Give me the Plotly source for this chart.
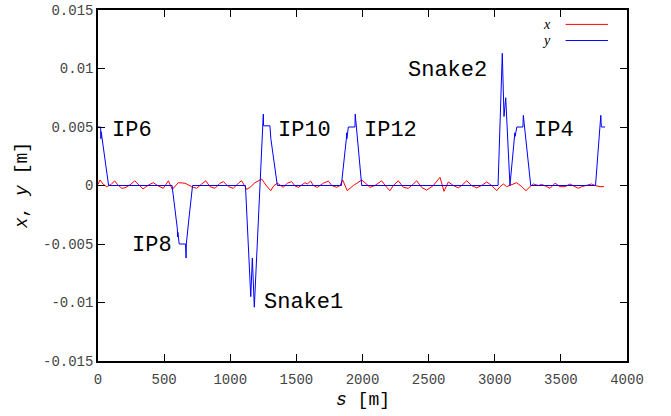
import plotly.graph_objects as go

# Closed-orbit distortion around the ring: horizontal (x) and vertical (y)
s_x = [0, 15, 40, 66, 100, 126, 150, 180, 204, 242, 278, 318, 340, 381, 418,
       456, 494, 532, 562, 607, 635, 658, 708, 746, 784, 815, 847, 885, 922,
       948, 986, 1023, 1061, 1086, 1124, 1149, 1187, 1238, 1275, 1306, 1331,
       1356, 1376, 1401, 1432, 1464, 1490, 1515, 1540, 1565, 1583, 1608, 1628,
       1658, 1679, 1704, 1742, 1767, 1805, 1830, 1850, 1885, 1931, 1968, 1994,
       2019, 2057, 2094, 2145, 2183, 2208, 2233, 2271, 2309, 2346, 2372, 2410,
       2447, 2485, 2536, 2586, 2616, 2649, 2687, 2724, 2750, 2788, 2825, 2863,
       2901, 2939, 2977, 3015, 3040, 3065, 3090, 3115, 3166, 3204, 3236, 3267,
       3292, 3330, 3355, 3393, 3418, 3456, 3493, 3531, 3569, 3607, 3632, 3657,
       3695, 3733, 3758, 3796, 3826]
x_orbit = [0.0001, 0.00047, 0.0001, -0.0001, 0.0001, 0.0004, 0.00005, -0.00024,
           -0.0002, 0.00005, 0.0004, -0.00004, -0.0003, 0.00004, 0.00024,
           -0.00004, -0.00024, 0.0004, -0.00033, 0.00024, 0.00022, 0.0002,
           -0.0001, -0.00024, 0.00013, 0.0004, -0.0001, -0.00024, 0.00019,
           0.00033, -0.0001, -0.00024, 0.00019, 0.00041, -0.00033, -0.00016,
           0.00024, 0.00055, -0.00004, -0.00044, 0.0, 0.0002, 0.00004, -0.00016,
           0.0002, 0.00033, -0.00004, -0.00016, 0.00004, 0.00024, 0.00013,
           0.00038, 0.0, -0.00016, 0.0, 0.0002, 0.00038, 0.0, -0.00016, 0.0,
           0.00047, -0.00044, 0.0, 0.00024, 0.00047, 0.00024, -0.00016, 0.0,
           0.0004, -0.00016, -0.00044, 0.0, 0.0004, -0.00016, -0.00024, 0.0,
           0.0004, -0.00016, -0.0004, 0.0, 0.0007, -0.0005, 0.0003, 0.0,
           -0.0002, 0.0, 0.0004, 0.0, -0.0002, 0.0, 0.0003, 0.0, -0.00044,
           -0.0001, 0.00013, -0.0001, 0.0, 0.00024, -0.0001, -0.00044, -0.0001,
           0.00013, 0.0, 0.0001, -0.0001, -0.00024, 0.0002, -0.0001, -0.0001,
           0.00013, -0.0001, -0.00024, -0.0001, 0.0, 0.00013, 0.0, -0.0001,
           -0.0001]

s_y = [0, 20, 22, 24, 80, 560, 600, 602, 604, 614, 662, 666, 668, 684, 715,
       1115, 1155, 1167, 1182, 1250, 1252, 1300, 1305, 1307, 1356, 1840, 1878,
       1880, 1882, 1893, 1943, 1945, 1994, 3025, 3057, 3070, 3083, 3115, 3150,
       3152, 3154, 3167, 3213, 3216, 3272, 3762, 3800, 3802, 3806, 3834]
y_orbit = [0.005, 0.005, 0.0040, 0.0046, 0.0, 0.0, -0.0037, -0.0044, -0.0040,
           -0.0050, -0.0050, -0.0062, -0.0050, -0.0032, 0.0, 0.0, -0.0095,
           -0.0062, -0.0104, 0.0061, 0.0051, 0.0051, 0.0046, 0.0040, 0.0, 0.0,
           0.0040, 0.0045, 0.0040, 0.0050, 0.0050, 0.0061, 0.0, 0.0, 0.0113,
           0.0059, 0.0075, 0.0, 0.0039, 0.0045, 0.0042, 0.0050, 0.0050, 0.0060,
           0.0, 0.0, 0.0050, 0.0060, 0.0050, 0.0050]

# Labels for interaction points and snakes
label_text = ["IP6", "IP8", "Snake1", "IP10", "IP12", "Snake2", "IP4"]
label_s = [91, 242, 1240, 1346, 1996, 2329, 3282]
label_v = [0.00474, -0.00517, -0.00996, 0.00474, 0.00474, 0.00987, 0.00474]

x_ticks = [0, 500, 1000, 1500, 2000, 2500, 3000, 3500, 4000]
y_ticks = [-0.015, -0.01, -0.005, 0, 0.005, 0.01, 0.015]
y_tick_text = ["-0.015", "-0.01", "-0.005", "0", "0.005", "0.01", "0.015"]

MONO = "Liberation Mono"
SERIF = "Liberation Serif"

fig = go.Figure()
fig.add_trace(go.Scatter(x=s_x, y=x_orbit, mode="lines", name="x",
                         line=dict(color="#ff0000", width=1)))
fig.add_trace(go.Scatter(x=s_y, y=y_orbit, mode="lines", name="y",
                         line=dict(color="#0000ff", width=1)))

for t, sv, vv in zip(label_text, label_s, label_v):
    fig.add_annotation(x=sv, y=vv, text=t, showarrow=False, xanchor="left",
                       yanchor="middle", font=dict(family=MONO, size=22, color="#000"))

# gnuplot-style key: italic name followed by a line sample
key = [("x", "#ff0000", 0.959), ("y", "#0000ff", 0.913)]
for name, col, yp in key:
    fig.add_annotation(xref="paper", yref="paper", x=0.860, y=yp, text="<i>%s</i>" % name,
                       showarrow=False, xanchor="right", yanchor="middle",
                       font=dict(family=SERIF, size=14, color="#000"))
    fig.add_shape(type="line", xref="paper", yref="paper", x0=0.884, x1=0.964,
                  y0=yp, y1=yp, line=dict(color=col, width=1))

# Axis titles
fig.add_annotation(xref="paper", yref="paper", x=0.5, y=-0.112, text="<i>s</i> [m]",
                   showarrow=False, xanchor="center", yanchor="middle",
                   font=dict(family=MONO, size=18, color="#000"))
fig.add_annotation(xref="paper", yref="paper", x=-0.144, y=0.5,
                   text="<i>x</i>, <i>y</i> [m]", textangle=-90,
                   showarrow=False, xanchor="center", yanchor="middle",
                   font=dict(family=MONO, size=18, color="#000"))

axis_common = dict(showline=True, linecolor="#000", linewidth=1.5, mirror="ticks",
                   ticks="inside", ticklen=7, tickwidth=1.2, tickcolor="#000",
                   showgrid=False, zeroline=False, automargin=False,
                   tickfont=dict(family=MONO, size=14, color="#444"))

fig.update_layout(
    width=671, height=416,
    margin=dict(l=98, r=44, t=10, b=55),
    paper_bgcolor="white", plot_bgcolor="white",
    showlegend=False,
    xaxis=dict(range=[0, 4000], tickvals=x_ticks, ticklabelstandoff=4, **axis_common),
    yaxis=dict(range=[-0.015, 0.015], tickvals=y_ticks, ticktext=y_tick_text,
               **axis_common),
)

fig.write_html("out.html")
